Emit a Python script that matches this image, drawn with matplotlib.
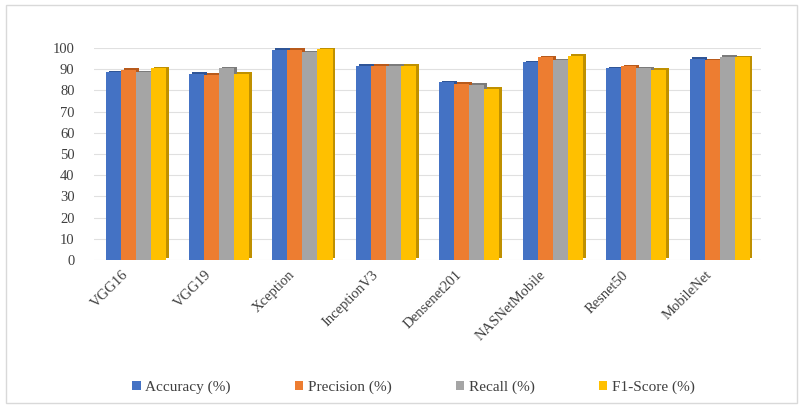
import numpy as np
import matplotlib.pyplot as plt
import matplotlib.transforms as mtransforms
from matplotlib.patches import Rectangle

# Données du graphique
modeles = ["VGG16", "VGG19", "Xception", "InceptionV3", "Densenet201",
           "NASNetMobile", "Resnet50", "MobileNet"]
accuracy = [88.5, 88.0, 99.2, 91.6, 83.8, 93.3, 90.4, 95.0]
precision = [89.6, 87.4, 99.2, 91.6, 83.0, 95.6, 91.4, 94.3]
recall = [88.5, 90.4, 98.0, 91.6, 82.7, 94.3, 90.4, 96.0]
f1_score = [90.5, 87.7, 99.8, 91.6, 80.7, 96.4, 89.6, 95.6]

series = [accuracy, precision, recall, f1_score]
noms = ["Accuracy (%)", "Precision (%)", "Recall (%)", "F1-Score (%)"]
couleurs = ["#4472C4", "#ED7D31", "#A5A5A5", "#FFC000"]
cotes = ["#2F5597", "#B85A1B", "#7B7B7B", "#BF9000"]

police = ['Liberation Serif', 'DejaVu Serif']
plt.rcParams['font.family'] = police

fig = plt.figure(figsize=(8.03, 4.08), dpi=100)
ax = fig.add_axes([0.117, 0.363, 0.831, 0.519])

x = np.arange(len(modeles))
largeur = 0.18
decalage = 0.035

for i, (valeurs, couleur, cote) in enumerate(zip(series, couleurs, cotes)):
    pos = x + (i - 1.5) * largeur
    # pseudo effet 3D : face latérale plus sombre derrière la barre
    ax.bar(pos + decalage, valeurs, largeur, bottom=0.8, color=cote, zorder=2 + i * 2)
    ax.bar(pos, valeurs, largeur, color=couleur, zorder=3 + i * 2, label=noms[i])

ax.set_xlim(-0.5, len(modeles) - 0.5)
ax.set_ylim(0, 100)
ax.set_yticks(range(0, 101, 10))
ax.yaxis.grid(True, color="#E0E0E0", lw=0.8, zorder=0)
ax.set_axisbelow(True)
for s in ax.spines.values():
    s.set_visible(False)
ax.tick_params(axis="y", length=0, labelsize=10.5, colors="#404040", pad=14)
ax.tick_params(axis="x", length=0, labelsize=10.5, colors="#404040", pad=6)
ax.set_xticks(x)
ax.set_xticklabels(modeles, rotation=45, ha="right", rotation_mode="anchor")

# léger décalage des étiquettes vers la gauche
decale = mtransforms.ScaledTranslation(-10 / 72, 0, fig.dpi_scale_trans)
for lab in ax.get_xticklabels():
    lab.set_transform(lab.get_transform() + decale)

ax.legend(loc="center", bbox_to_anchor=(0.479, -0.6), ncol=4, frameon=False,
          prop={'family': police, 'size': 11}, handlelength=0.55, handleheight=0.55,
          handletextpad=0.3, columnspacing=4.2, labelcolor="#404040")

# Cadre de la zone de graphique
fig.patches.append(Rectangle((0.008, 0.012), 0.984, 0.976, transform=fig.transFigure,
                             fill=False, edgecolor="#D9D9D9", lw=1))

fig.savefig("out.png", dpi=100)
